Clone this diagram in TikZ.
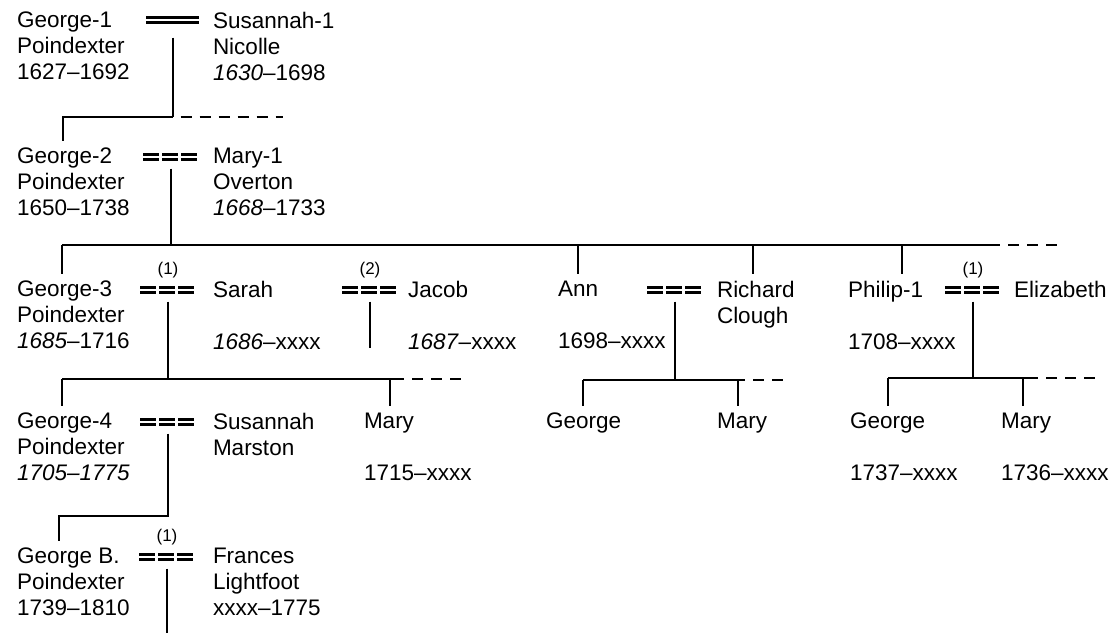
\documentclass[tikz,border=0pt]{standalone}
\usepackage{fontspec}
\setmainfont{Liberation Sans}
\usetikzlibrary{positioning}
\begin{document}
\begin{tikzpicture}[x=1pt,y=1pt,line width=2pt,
    person/.style={anchor=north west,align=left,inner sep=0pt,font=\fontsize{22.5}{26}\selectfont},
    marr/.style={minimum width=54pt,minimum height=7pt,inner sep=0pt},
    wed/.style={double,double distance=2.8pt,line width=2.3pt},
    eqline/.style={wed,dash pattern=on 16pt off 3pt},
    note/.style={font=\fontsize{17}{20}\selectfont,inner sep=0pt},
    more/.style={dash pattern=on 11pt off 8pt,dash phase=11pt},
    drop/.style={shorten >=6pt}]
    \useasboundingbox (0,0) rectangle (1109,-633);
    %% generation 1
    \node[person] (g1) at (16,-11) {George-1\\Poindexter\\1627--1692};
    \node[person] (s1) at (212,-11) {Susannah-1\\Nicolle\\\textit{1630}--1698};
    \node[marr,minimum width=51pt] (m1) at (172.5,-20) {};
    \draw[wed] (m1.west) -- (m1.east);
    %% generation 2
    \node[person] (g2) at (16,-147) {George-2\\Poindexter\\1650--1738};
    \node[person] (mary1) at (212,-147) {Mary-1\\Overton\\\textit{1668}--1733};
    \node[marr] (m2) at (171,-157) {};
    %% generation 3
    \node[person] (g3) at (16,-280) {George-3\\Poindexter\\\textit{1685}--1716};
    \node[person] (sarah) at (212,-280) {Sarah\\ \\\textit{1686}--xxxx};
    \node[person] (jacob) at (407,-280) {Jacob\\ \\\textit{1687}--xxxx};
    \node[person] (ann) at (557,-280) {Ann\\ \\1698--xxxx};
    \node[person] (richard) at (716,-280) {Richard\\Clough};
    \node[person] (philip) at (847,-280) {Philip-1\\ \\1708--xxxx};
    \node[person] (eliz) at (1013,-280) {Elizabeth};
    \node[marr] (m3a) at (168,-290) {};
    \node[marr] (m3b) at (370,-290) {};
    \node[marr] (m3c) at (675,-290) {};
    \node[marr] (m3d) at (973,-290) {};
    %% generation 4
    \node[person] (g4) at (16,-412) {George-4\\Poindexter\\\textit{1705--1775}};
    \node[person] (susannah) at (212,-412) {Susannah\\Marston};
    \node[person] (mary3) at (363,-412) {Mary\\ \\1715--xxxx};
    \node[person] (georgeA) at (545,-412) {George};
    \node[person] (maryA) at (716,-412) {Mary};
    \node[person] (georgeP) at (849,-412) {George\\ \\1737--xxxx};
    \node[person] (maryP) at (1000,-412) {Mary\\ \\1736--xxxx};
    \node[marr] (m4) at (168,-422) {};
    %% generation 5
    \node[person] (g5) at (16,-547) {George B.\\Poindexter\\1739--1810};
    \node[person] (frances) at (212,-547) {Frances\\Lightfoot\\xxxx--1775};
    \node[marr] (m5) at (167,-557) {};
    %% marriage marks
    \foreach \m in {m2,m3a,m3b,m3c,m3d,m4,m5}
        \draw[eqline] (\m.west) -- (\m.east);
    \node[note,above=6pt of m3a] (n3a) {(1)};
    \node[note,above=6pt of m3b] (n3b) {(2)};
    \node[note,above=6pt of m3d] (n3d) {(1)};
    \node[note,above=6pt of m5] (n5) {(1)};
    %% lines of descent
    \coordinate (b1w) at (63,-117);
    \coordinate (b1x) at (283,-117);
    \draw[shorten <=13pt] (m1.south) -- (m1 |- b1w);
    \draw[drop] (m1 |- b1w) -- (b1w) -- (b1w |- g2.north);
    \draw[more] (m1 |- b1w) -- (b1x);
    \coordinate (b2w) at (62,-245);
    \coordinate (b2e) at (1000,-245);
    \coordinate (b2x) at (1058,-245);
    \draw[shorten <=7pt] (m2.south) -- (m2 |- b2w);
    \draw (b2w) -- (b2e);
    \draw[more] (b2e) -- (b2x);
    \foreach \x/\n in {62/g3,578/ann,753/richard,902/philip}{
        \coordinate (k-\n) at (\x,-245);
        \draw[drop] (k-\n) -- (k-\n |- \n.north);
    }
    %% George-3 and Sarah
    \coordinate (b3w) at (62,-379);
    \coordinate (b3e) at (404,-379);
    \coordinate (b3x) at (461,-379);
    \draw[shorten <=7pt] (m3a.south) -- (m3a |- b3w);
    \draw (b3w) -- (b3e);
    \draw[more] (b3e) -- (b3x);
    %% Jacob
    \coordinate (j-end) at (370,-348);
    \draw[shorten <=7pt] (m3b.south) -- (j-end);
    %% Ann and Richard
    \coordinate (b3cw) at (583,-380);
    \coordinate (b3ce) at (745,-380);
    \coordinate (b3cx) at (790,-380);
    \draw[shorten <=7pt] (m3c.south) -- (m3c |- b3cw);
    \draw (b3cw) -- (b3ce);
    \draw[more] (b3ce) -- (b3cx);
    %% Philip-1 and Elizabeth
    \coordinate (b3dw) at (888,-378);
    \coordinate (b3de) at (1038,-378);
    \coordinate (b3dx) at (1101,-378);
    \draw[shorten <=7pt] (m3d.south) -- (m3d |- b3dw);
    \draw (b3dw) -- (b3de);
    \draw[more] (b3de) -- (b3dx);
    \foreach \x/\y/\n in {62/379/g4,390/379/mary3,583/380/georgeA,738/380/maryA,888/378/georgeP,1023/378/maryP}{
        \coordinate (k-\n) at (\x,-\y);
        \draw[drop] (k-\n) -- (k-\n |- \n.north);
    }
    %% George-4 and Susannah
    \coordinate (c4) at (168,-516);
    \coordinate (c4w) at (59,-516);
    \draw[shorten <=7pt,drop] (m4.south) -- (c4) -- (c4w) -- (c4w |- g5.north);
    %% George B. and Frances
    \coordinate (c5) at (167,-633);
    \draw[shorten <=7pt] (m5.south) -- (c5);
\end{tikzpicture}
\end{document}
